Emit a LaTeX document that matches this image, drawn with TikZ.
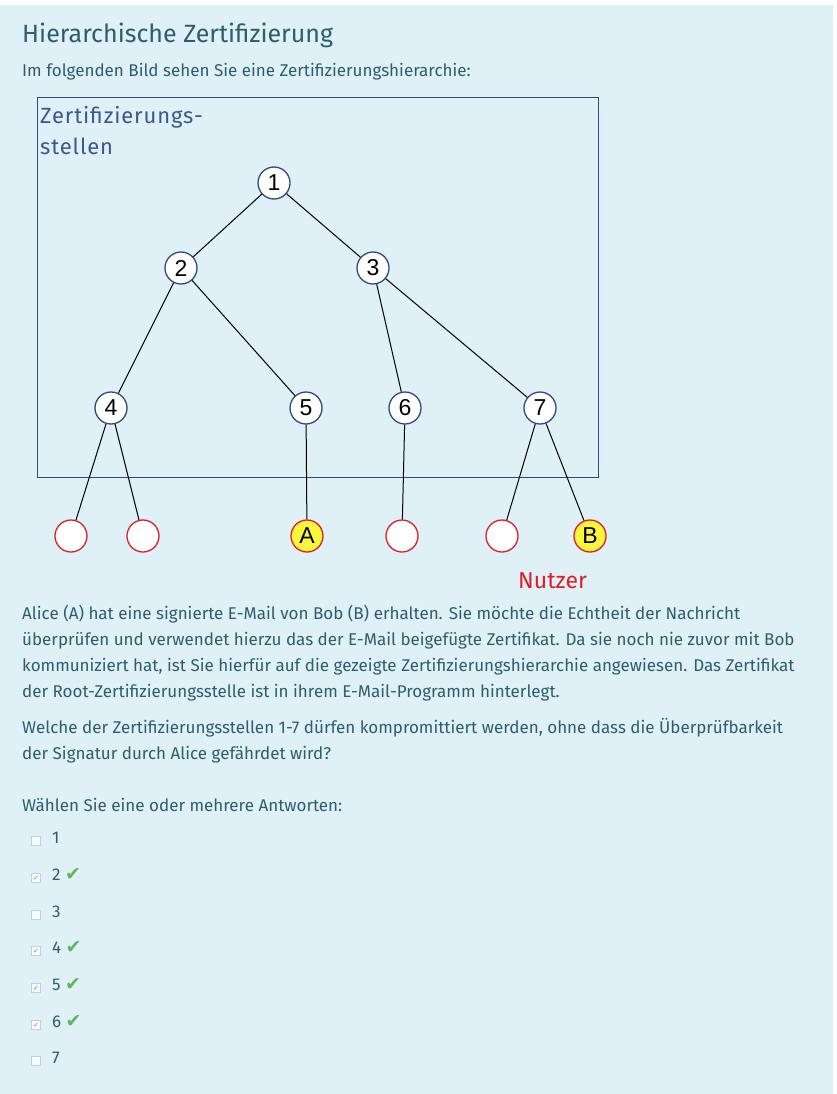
\documentclass[tikz,border=0pt]{standalone}
\usepackage{fontspec}
\setmainfont{Fira Sans}
\newfontfamily\numfont{Liberation Sans}
\newfontfamily\symfont{DejaVu Sans}
\newfontfamily\labelfont[LetterSpace=4]{Fira Sans}
\usetikzlibrary{positioning}
\definecolor{bgblue}{RGB}{223,240,247}
\definecolor{textteal}{RGB}{44,94,110}
\definecolor{boxblue}{RGB}{47,74,130}
\definecolor{labelblue}{RGB}{58,88,140}
\definecolor{userred}{RGB}{222,30,40}
\definecolor{useryellow}{RGB}{250,246,60}
\definecolor{okgreen}{RGB}{92,184,92}
\definecolor{cbgray}{RGB}{200,206,210}
\tikzset{
  ca/.style={
    circle, draw=boxblue, line width=1.3pt, fill=white,
    minimum size=32pt, inner sep=0pt,
    font=\numfont\fontsize{23}{23}\selectfont
  },
  user/.style={
    ca, draw=userred
  },
  userY/.style={
    user, fill=useryellow
  },
  link/.style={black, line width=1pt},
  txt/.style={
    anchor=base west, inner sep=0pt, text=textteal,
    font=\fontsize{17}{26}\selectfont, align=left
  },
  cbox/.style={
    draw=cbgray, fill=white!70!bgblue, line width=0.6pt,
    minimum size=9pt, inner sep=0pt
  },
  tick/.style={
    text=okgreen, inner sep=0pt, anchor=base west,
    font=\symfont\fontsize{19}{19}\selectfont
  }
}

\begin{document}
\begin{tikzpicture}[x=1pt, y=-1pt]
  \useasboundingbox (0,0) rectangle (836,1094);
  \fill[bgblue] (0,5) rectangle (833,1094);

  % header
  \node[txt, font=\fontsize{25}{25}\selectfont] (title) at (22,43)
    {Hierarchische Zertifizierung};
  \node[txt] (intro) at (22,77)
    {Im folgenden Bild sehen Sie eine Zertifizierungshierarchie:};

  % certificate authorities
  \draw[boxblue, line width=0.9pt] (37,97) rectangle (598,477);
  \node[txt, text=labelblue, font=\labelfont\fontsize{22}{31}\selectfont] (calabel) at (40,155)
    {Zertifizierungs-\\stellen};

  \node[ca] (c1) at (274,183) {1};
  \node[ca] (c2) at (181,268) {2};
  \node[ca] (c3) at (373,268) {3};
  \node[ca] (c4) at (111,408) {4};
  \node[ca] (c5) at (306,408) {5};
  \node[ca] (c6) at (405,408) {6};
  \node[ca] (c7) at (540,408) {7};

  % users
  \node[user]  (u1) at (71,536)  {};
  \node[user]  (u2) at (143,536) {};
  \node[userY] (ua) at (307,536) {A};
  \node[user]  (u3) at (402,536) {};
  \node[user]  (u4) at (502,536) {};
  \node[userY] (ub) at (590,536) {B};
  \node[txt, text=userred, font=\fontsize{23}{23}\selectfont] (nutzer) at (518,588)
    {Nutzer};

  \draw[link] (c1) -- (c2);
  \draw[link] (c1) -- (c3);
  \draw[link] (c2) -- (c4);
  \draw[link] (c2) -- (c5);
  \draw[link] (c3) -- (c6);
  \draw[link] (c3) -- (c7);
  \draw[link] (c4) -- (u1);
  \draw[link] (c4) -- (u2);
  \draw[link] (c5) -- (ua);
  \draw[link] (c6) -- (u3);
  \draw[link] (c7) -- (u4);
  \draw[link] (c7) -- (ub);

  % question (base anchor = last line)
  \node[txt] (story) at (22,697)
    {Alice (A) hat eine signierte E-Mail von Bob (B) erhalten. Sie möchte die Echtheit der Nachricht\\
     überprüfen und verwendet hierzu das der E-Mail beigefügte Zertifikat. Da sie noch nie zuvor mit Bob\\
     kommuniziert hat, ist Sie hierfür auf die gezeigte Zertifizierungshierarchie angewiesen. Das Zertifikat\\
     der Root-Zertifizierungsstelle ist in ihrem E-Mail-Programm hinterlegt.};
  \node[txt] (question) at (22,759)
    {Welche der Zertifizierungsstellen 1-7 dürfen kompromittiert werden, ohne dass die Überprüfbarkeit\\
     der Signatur durch Alice gefährdet wird?};
  \node[txt] (choose) at (22,811) {Wählen Sie eine oder mehrere Antworten:};

  % answers
  \foreach \n/\y/\ok in {1/843/0, 2/880/1, 3/917/0, 4/953/1, 5/990/1, 6/1027/1, 7/1063/0} {
    \node[cbox] (box\n) at (36,\y-2) {};
    \node[txt] (ans\n) at (52,\y) {\n};
    \ifnum\ok=1
      \node[text=gray, inner sep=0pt, font=\symfont\fontsize{7}{7}\selectfont] at (box\n) {✓};
      \node[tick, right=4pt of ans\n.base east, anchor=base west] (ok\n) {✔};
    \fi
  }
\end{tikzpicture}
\end{document}
